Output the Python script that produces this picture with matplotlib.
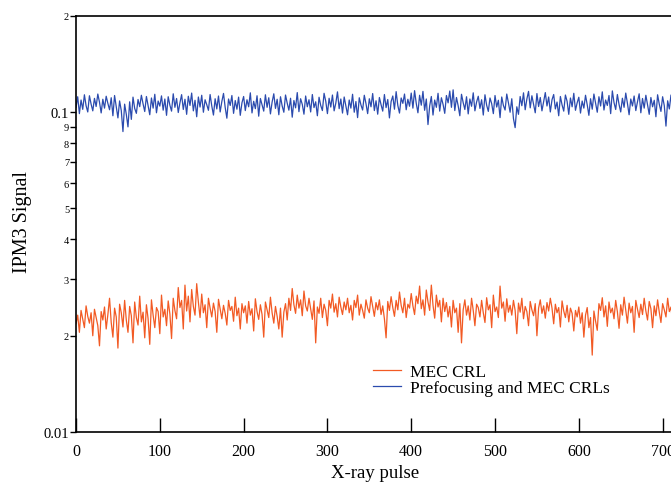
import matplotlib
matplotlib.use("Agg")
import matplotlib.pyplot as plt
import numpy as np

# Data in units of 1e-4 (IPM3 signal), one value every 2 X-ray pulses
pulse_step = 2
mec_crl_e4 = [
    218, 232, 205, 240, 226, 212, 248, 230, 219, 236, 200, 242, 228, 215, 186, 238, 224, 246, 210, 233,
    262, 220, 198, 244, 229, 183, 251, 236, 213, 258, 224, 205, 247, 231, 190, 255, 228, 216, 266, 221,
    237, 197, 250, 226, 188, 259, 232, 212, 245, 238, 203, 268, 229, 242, 215, 257, 234, 196, 262, 240,
    226, 283, 245, 258, 210, 288, 239, 266, 221, 279, 247, 232, 291, 255, 228, 270, 236, 250, 212, 262,
    244, 229, 253, 238, 205, 260, 242, 226, 249, 235, 216, 258, 240, 247, 222, 264, 231, 244, 210, 252,
    236, 248, 219, 256, 232, 243, 207, 261, 238, 225, 250, 233, 198, 255, 241, 228, 264, 236, 219, 247,
    230, 210, 244, 198, 237, 252, 224, 262, 240, 281, 250, 235, 268, 244, 259, 231, 276, 248, 239, 262,
    243, 225, 257, 190, 246, 235, 262, 228, 251, 240, 215, 258, 244, 270, 237, 252, 229, 264, 246, 233,
    255, 241, 262, 236, 249, 224, 258, 245, 268, 232, 251, 240, 227, 259, 244, 236, 265, 247, 230, 254,
    241, 259, 233, 248, 226, 197, 256, 240, 265, 245, 230, 258, 241, 274, 249, 236, 262, 228, 251, 244,
    271, 248, 233, 266, 252, 286, 243, 259, 232, 278, 255, 240, 288, 249, 227, 268, 246, 258, 221, 262,
    238, 254, 229, 247, 213, 258, 236, 244, 205, 252, 190, 241, 259, 232, 248, 224, 262, 240, 215, 251,
    245, 229, 258, 236, 220, 263, 241, 250, 212, 268, 238, 246, 228, 286, 244, 255, 222, 261, 237, 249,
    232, 258, 240, 203, 253, 237, 262, 226, 247, 238, 215, 256, 241, 231, 252, 200, 244, 259, 235, 248,
    227, 254, 239, 262, 244, 218, 251, 236, 245, 213, 257, 239, 228, 249, 221, 244, 235, 207, 240, 229,
    246, 219, 236, 198, 232, 245, 212, 228, 174, 239, 222, 208, 252, 240, 263, 229, 248, 214, 255, 236,
    244, 226, 258, 238, 211, 250, 232, 264, 241, 219, 253, 236, 247, 205, 258, 242, 228, 251, 233, 262,
    239, 224, 256, 243, 212, 248, 231, 259, 237, 220, 252, 241, 229, 262, 238, 246, 217, 253, 240, 235,
]
prefocus_mec_e4 = [
    1035, 1118, 990, 1092, 1021, 1134, 1048, 1002, 1126, 1060, 1010, 1105, 1042, 1140, 1075, 995, 1098, 1030, 1122, 1066,
    1018, 1110, 975, 1128, 1040, 960, 1085, 1012, 870, 1060, 985, 900, 1078, 950, 1115, 1028, 992, 1096, 1041, 1130,
    1062, 1005, 1120, 1048, 982, 1108, 1030, 1138, 996, 1084, 1045, 1125, 1015, 1100, 978, 1118, 1052, 1008, 1142, 1036,
    1104, 998, 1070, 1135, 1020, 1098, 985, 1122, 1050, 1148, 1010, 1090, 968, 1116, 1038, 1130, 1000, 1094, 1056, 1014,
    1136, 1046, 980, 1102, 1024, 1124, 1002, 1080, 1145, 1035, 958, 1100, 1050, 1128, 992, 1088, 1022, 1115, 978, 1070,
    1120, 1012, 1094, 1040, 1150, 995, 1082, 1026, 1126, 972, 1104, 1055, 1008, 1134, 1036, 1110, 988, 1076, 1142, 1028,
    1098, 982, 1118, 1046, 1000, 1132, 1068, 1015, 1106, 965, 1088, 1032, 1152, 1004, 1102, 1058, 986, 1124, 1040, 1094,
    1002, 1136, 1034, 1078, 975, 1114, 1050, 1012, 1146, 1082, 990, 1106, 1038, 1132, 1010, 1068, 1158, 1026, 1100, 994,
    1116, 1048, 982, 1092, 1030, 1138, 1000, 1080, 962, 1110, 1054, 1016, 1130, 1064, 990, 1102, 1040, 1144, 1012, 1086,
    986, 1112, 1056, 1008, 1136, 1034, 1096, 960, 1080, 1124, 1022, 1160, 1050, 994, 1108, 1066, 1140, 1018, 1098, 1044,
    1148, 1030, 1168, 1066, 996, 1130, 1052, 1162, 1014, 1100, 915, 1046, 1120, 980, 1092, 1036, 1146, 1008, 1110, 1058,
    992, 1128, 1070, 1165, 1036, 1175, 1012, 1112, 1048, 975, 1138, 1072, 1020, 1118, 988, 1100, 1044, 1150, 1010, 1076,
    1122, 1028, 1094, 980, 1134, 1052, 1006, 1108, 1064, 990, 1128, 1038, 1090, 962, 1116, 1050, 1016, 1140, 1070, 1000,
    1102, 955, 895, 1040, 985, 1120, 1048, 1150, 1018, 1100, 1162, 1032, 1126, 1060, 996, 1144, 1042, 1112, 1010, 1080,
    1152, 1046, 1116, 1002, 1094, 1136, 1024, 1076, 975, 1120, 1054, 1008, 1132, 1082, 985, 1108, 1040, 1146, 1014, 1070,
    1114, 994, 1084, 1030, 1130, 1056, 978, 1102, 1022, 1140, 1068, 1000, 1118, 1046, 1158, 1016, 1092, 1050, 1128, 990,
    1166, 1072, 1020, 1136, 1058, 1002, 1106, 1036, 1148, 1066, 982, 1100, 1046, 1124, 1012, 1078, 1142, 996, 1104, 1030,
    1130, 1054, 985, 1112, 1040, 1090, 968, 1134, 1060, 1006, 1118, 1048, 905, 1086, 1024, 1132, 996, 1098, 1052, 1010,
]
series_labels = ["MEC CRL", "Prefocusing and MEC CRLs"]
x_ticks = [0, 100, 200, 300, 400, 500, 600, 700]
y_ticks = [0.01, 0.02, 0.03, 0.04, 0.05, 0.06, 0.07, 0.08, 0.09, 0.1, 0.2]
y_tick_labels = ["0.01", "2", "3", "4", "5", "6", "7", "8", "9", "0.1", "2"]

mec = np.array(mec_crl_e4) * 1e-4
pre = np.array(prefocus_mec_e4) * 1e-4
x_mec = np.arange(len(mec)) * pulse_step
x_pre = np.arange(len(pre)) * pulse_step

plt.rcParams['font.family'] = ['Liberation Serif', 'DejaVu Serif']

fig = plt.figure(figsize=(6.71, 4.85), dpi=100)
ax = fig.add_axes([0.1133, 0.1072, 0.8867, 0.8578])

ax.plot(x_mec, mec, color='#F25A24', lw=0.9, label=series_labels[0])
ax.plot(x_pre, pre, color='#2B4BAE', lw=0.9, label=series_labels[1])

ax.set_yscale('log')
ax.set_ylim(0.01, 0.2)
ax.set_xlim(0, 710)
ax.set_xticks(x_ticks)
ax.set_xticklabels([str(t) for t in x_ticks], fontsize=11.5)
ax.set_yticks(y_ticks)
ax.set_yticklabels(y_tick_labels)
ax.yaxis.set_minor_locator(matplotlib.ticker.NullLocator())
for lab, txt in zip(ax.get_yticklabels(), y_tick_labels):
    lab.set_fontsize(10.5 if '.' in txt else 7.5)
ax.tick_params(axis='x', direction='in', length=10, width=1, pad=8)
ax.tick_params(axis='y', direction='out', length=4, width=1, pad=1)
ax.spines['right'].set_visible(False)
for s in ['left', 'bottom', 'top']:
    ax.spines[s].set_linewidth(1.2)

ax.set_xlabel('X-ray pulse', fontsize=13.5)
ax.xaxis.set_label_coords((375 - 76) / 595.0, -(465 - 433) / 416.0)
ax.set_ylabel('IPM3 Signal', fontsize=14.5)
ax.yaxis.set_label_coords(-(76 - 32) / 595.0, (433 - 222) / 416.0)

ax.legend(loc='upper left', bbox_to_anchor=(0.546, 0.262), bbox_transform=fig.transFigure,
          frameon=False, fontsize=12.5, handlelength=1.6, handletextpad=0.5,
          labelspacing=0.0, borderaxespad=0)

fig.savefig('out.png', dpi=100)
